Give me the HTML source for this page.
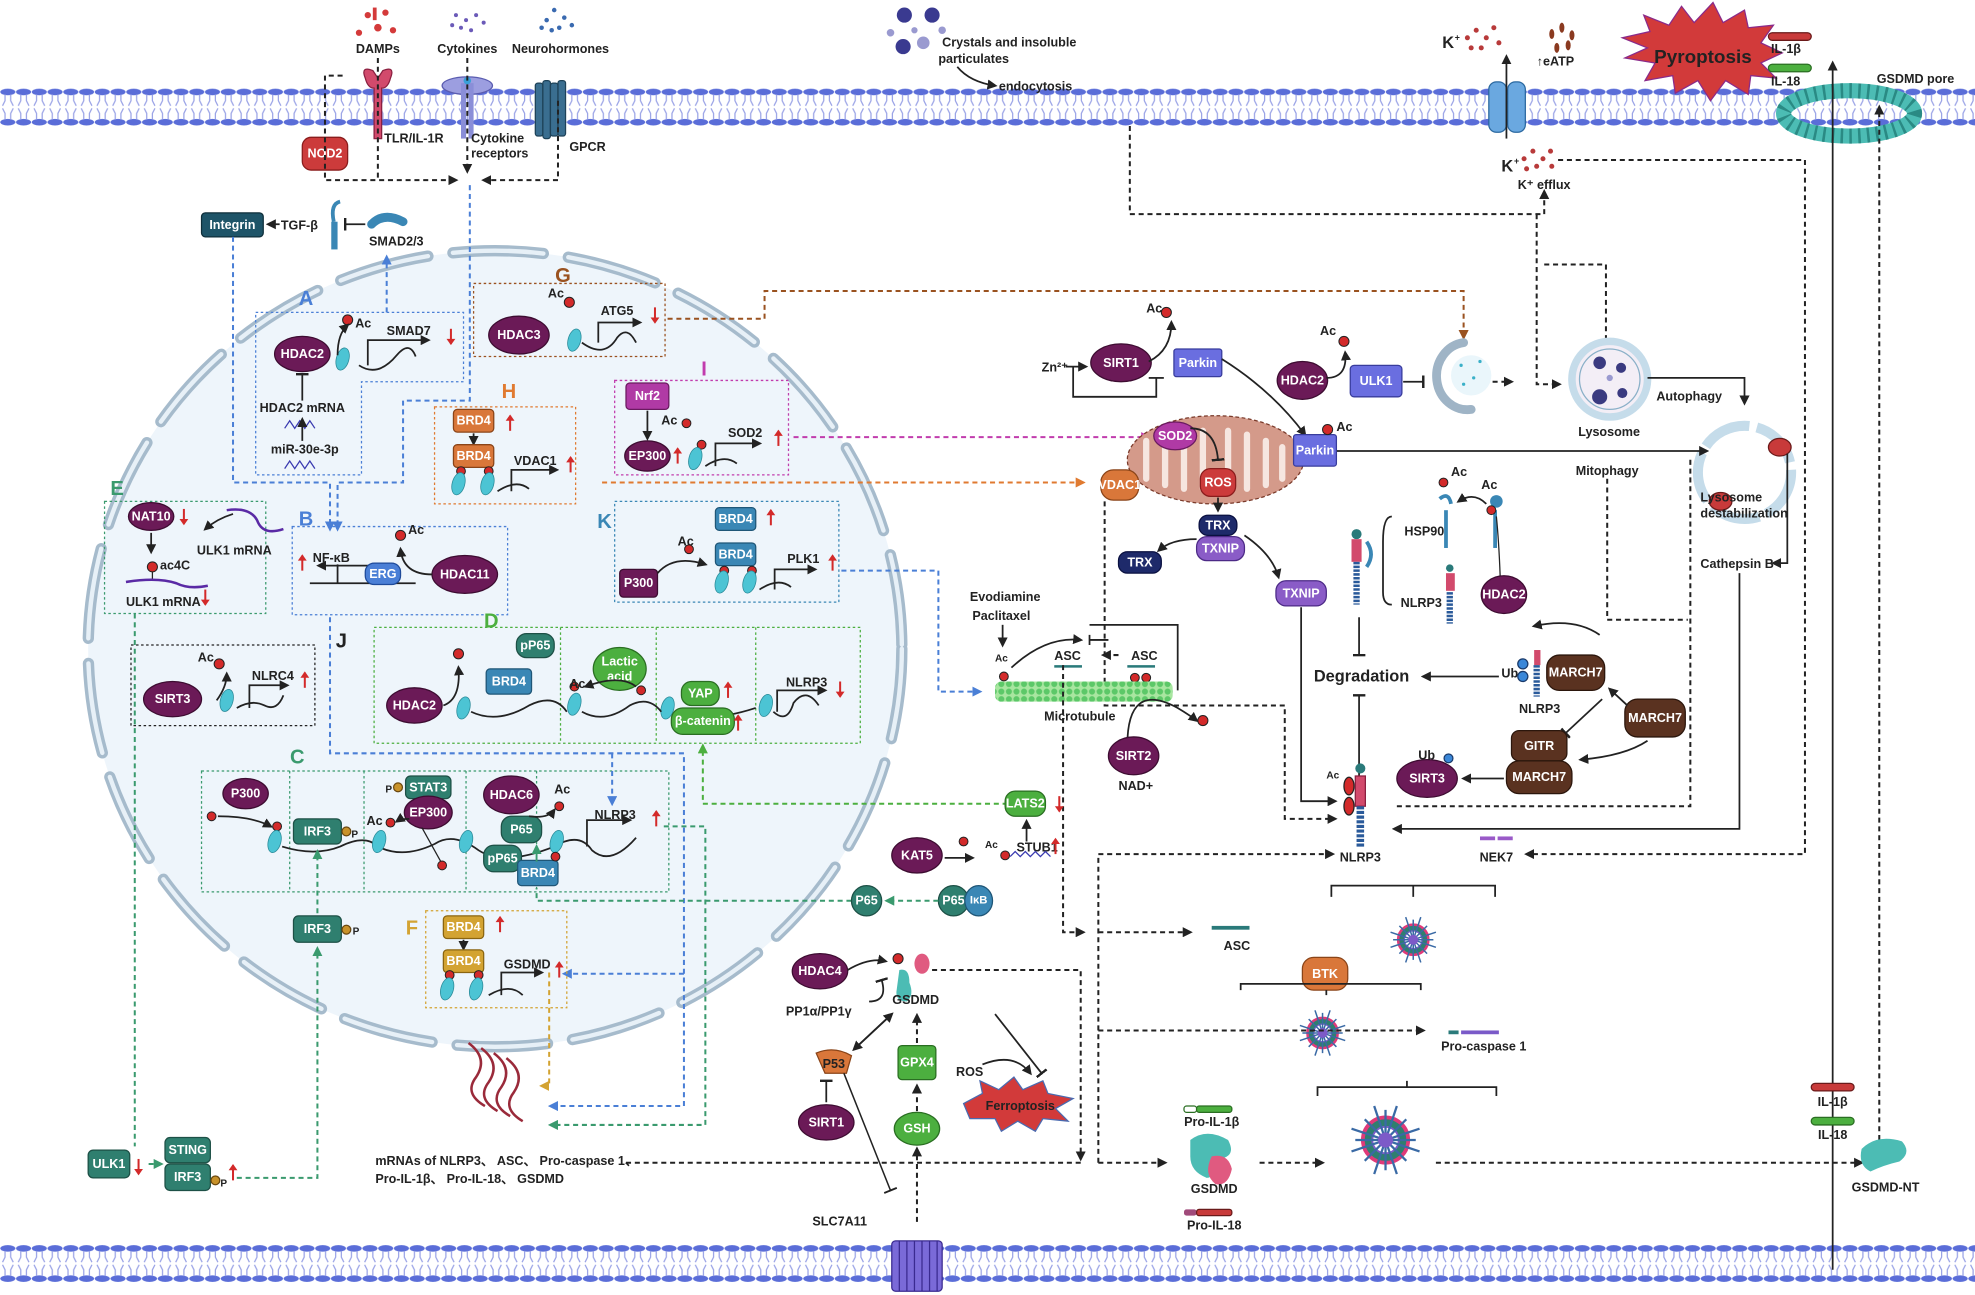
<!DOCTYPE html>
<html><head><meta charset="utf-8"><style>
html,body{margin:0;padding:0;background:#fff}
svg{display:block}
text{font-family:"Liberation Sans Narrow","Liberation Sans",sans-serif;font-weight:bold;font-size:10px;fill:#222}
.w{fill:#fff;text-anchor:middle;dominant-baseline:central}
.c{text-anchor:middle}
.L{font-size:16px}
.m{fill:#6b1a57;stroke:#3d0c31;stroke-width:1}
.tl{fill:#2f7f6f;stroke:#1d5046;stroke-width:1}
.bl{fill:#3a87b5;stroke:#1f5677;stroke-width:1}
.or{fill:#d9773a;stroke:#8a4418;stroke-width:1}
.gr{fill:#4caf3f;stroke:#2a6e22;stroke-width:1}
.pu{fill:#8a5cc7;stroke:#4c2a86;stroke-width:1}
.pk{fill:#6a6ee0;stroke:#383c9c;stroke-width:1}
.br{fill:#5a3220;stroke:#2b160c;stroke-width:1}
.yl{fill:#d3a332;stroke:#8a6510;stroke-width:1}
.d{fill:none;stroke:#222;stroke-width:1.6;stroke-dasharray:4 3}
.s{fill:none;stroke:#222;stroke-width:1.4}
.bd{fill:none;stroke:#4a7fd6;stroke-width:1.6;stroke-dasharray:4 3}
.gd{fill:none;stroke:#3a9a6e;stroke-width:1.6;stroke-dasharray:4 3}
.lg{fill:none;stroke:#4caf3f;stroke-width:1.6;stroke-dasharray:4 3}
.box{fill:none;stroke-width:1;stroke-dasharray:2 2}
.nu{fill:#4cc4d4;stroke:#2a8a98;stroke-width:.6}
.dot{fill:#d32a2a;stroke:#222;stroke-width:.8}
</style></head><body>
<svg width="1975" height="1295" viewBox="0 0 1568 1028" preserveAspectRatio="none" xmlns="http://www.w3.org/2000/svg">
<defs>
<pattern id="mem" x="0" y="70" width="12.5" height="32" patternUnits="userSpaceOnUse">
<ellipse cx="6.2" cy="3" rx="6" ry="2.6" fill="#5a6dd8"/>
<ellipse cx="6.2" cy="27" rx="6" ry="2.6" fill="#5a6dd8"/>
<path d="M4 5 L4 10 L2 14 M8.5 5 L8.5 10 L10.5 14 M4 25 L4 20 L2 16 M8.5 25 L8.5 20 L10.5 16" stroke="#9aa3e6" stroke-width="1" fill="none"/>
</pattern>
<pattern id="mem2" x="0" y="988" width="12.5" height="32" patternUnits="userSpaceOnUse">
<ellipse cx="6.2" cy="3" rx="6" ry="2.6" fill="#5a6dd8"/>
<ellipse cx="6.2" cy="27" rx="6" ry="2.6" fill="#5a6dd8"/>
<path d="M4 5 L4 10 L2 14 M8.5 5 L8.5 10 L10.5 14 M4 25 L4 20 L2 16 M8.5 25 L8.5 20 L10.5 16" stroke="#9aa3e6" stroke-width="1" fill="none"/>
</pattern>
<pattern id="mt" width="6" height="6" patternUnits="userSpaceOnUse"><rect width="6" height="6" fill="#a8e6a0"/><circle cx="3" cy="3" r="2.4" fill="#5cc868"/></pattern>
<marker id="a" markerWidth="8" markerHeight="8" refX="6" refY="4" orient="auto" markerUnits="userSpaceOnUse"><path d="M0 0L8 4L0 8z" fill="#222"/></marker>
<marker id="ab" markerWidth="8" markerHeight="8" refX="6" refY="4" orient="auto" markerUnits="userSpaceOnUse"><path d="M0 0L8 4L0 8z" fill="#4a7fd6"/></marker>
<marker id="ag" markerWidth="8" markerHeight="8" refX="6" refY="4" orient="auto" markerUnits="userSpaceOnUse"><path d="M0 0L8 4L0 8z" fill="#3a9a6e"/></marker>
<marker id="alg" markerWidth="8" markerHeight="8" refX="6" refY="4" orient="auto" markerUnits="userSpaceOnUse"><path d="M0 0L8 4L0 8z" fill="#4caf3f"/></marker>
<marker id="ao" markerWidth="8" markerHeight="8" refX="6" refY="4" orient="auto" markerUnits="userSpaceOnUse"><path d="M0 0L8 4L0 8z" fill="#e07a30"/></marker>
<marker id="abr" markerWidth="8" markerHeight="8" refX="6" refY="4" orient="auto" markerUnits="userSpaceOnUse"><path d="M0 0L8 4L0 8z" fill="#9a5220"/></marker>
<marker id="am" markerWidth="8" markerHeight="8" refX="6" refY="4" orient="auto" markerUnits="userSpaceOnUse"><path d="M0 0L8 4L0 8z" fill="#c13cad"/></marker>
<marker id="ay" markerWidth="8" markerHeight="8" refX="6" refY="4" orient="auto" markerUnits="userSpaceOnUse"><path d="M0 0L8 4L0 8z" fill="#d3a332"/></marker>
<marker id="t" markerWidth="2" markerHeight="10" refX="1" refY="5" orient="auto" markerUnits="userSpaceOnUse"><rect width="2" height="10" fill="#222"/></marker>
<g id="ru"><path d="M0 -7 L0 5" stroke="#d32a2a" stroke-width="1.6"/><path d="M-3.5 -3 L0 -8 L3.5 -3z" fill="#d32a2a"/></g>
<g id="rd"><path d="M0 -5 L0 7" stroke="#d32a2a" stroke-width="1.6"/><path d="M-3.5 3 L0 8 L3.5 3z" fill="#d32a2a"/></g>
<g id="nuc"><ellipse cx="0" cy="0" rx="5" ry="9" class="nu" transform="rotate(15)"/></g>
<g id="infl"><circle r="12" fill="#2f7f6f" stroke="#e03a7a" stroke-width="2"/><circle r="7" fill="#fff" stroke="#7d5ac8"/><path d="M0-16V16M-16 0H16M-11-11L11 11M-11 11L11-11M-6-18L6 18M6-18L-6 18M-18-6L18 6M-18 6L18-6" stroke="#3a6aa5" stroke-width="1.2"/><circle r="4" fill="#7d5ac8"/></g>
</defs>

<rect x="0" y="70" width="1568" height="32" fill="url(#mem)"/>
<rect x="0" y="988" width="1568" height="32" fill="url(#mem2)"/>

<!-- nucleus -->
<ellipse cx="393" cy="515" rx="323" ry="316" fill="#eef5fb"/>
<ellipse cx="393" cy="515" rx="323" ry="316" fill="none" stroke="#a6bbcc" stroke-width="9" stroke-dasharray="72 20" stroke-linecap="round"/>
<ellipse cx="393" cy="515" rx="323" ry="316" fill="none" stroke="#e7f0f7" stroke-width="3.5" stroke-dasharray="72 20" stroke-linecap="round"/>

<!-- top ligands -->
<g fill="#d43a3a"><circle cx="292" cy="12" r="2.5"/><circle cx="300" cy="22" r="3"/><circle cx="306" cy="10" r="2.5"/><circle cx="285" cy="26" r="2.5"/><circle cx="312" cy="24" r="2.5"/><rect x="296" y="6" width="3" height="10"/></g>
<g fill="#6b5ab8"><circle cx="362" cy="12" r="1.6"/><circle cx="370" cy="16" r="1.6"/><circle cx="378" cy="12" r="1.6"/><circle cx="366" cy="22" r="1.6"/><circle cx="374" cy="24" r="1.6"/><circle cx="384" cy="18" r="1.6"/><circle cx="359" cy="20" r="1.6"/></g>
<g fill="#3a6ab0"><circle cx="440" cy="8" r="1.8"/><circle cx="448" cy="14" r="1.8"/><circle cx="434" cy="16" r="1.8"/><circle cx="444" cy="22" r="1.8"/><circle cx="454" cy="20" r="1.8"/><circle cx="438" cy="24" r="1.8"/><circle cx="430" cy="22" r="1.8"/></g>
<text x="300" y="42" class="c">DAMPs</text><text x="371" y="42" class="c">Cytokines</text><text x="445" y="42" class="c">Neurohormones</text>
<path d="M290 62 Q286 52 296 56 L300 62 L304 56 Q314 52 310 62 Q308 70 303 70 L303 110 L297 110 L297 70 Q292 70 290 62z" fill="#d24a6c" stroke="#8a2040"/>
<ellipse cx="371" cy="68" rx="20" ry="7" fill="#9c9ee0" stroke="#5a5cb0"/><rect x="366" y="66" width="4" height="44" fill="#8a8ed8"/><rect x="372" y="66" width="4" height="44" fill="#8a8ed8"/><circle cx="371" cy="64" r="3" fill="#3aa0d8"/>
<g fill="#3a6e90" stroke="#1e4258"><rect x="425" y="66" width="6" height="42" rx="2"/><rect x="431" y="64" width="6" height="46" rx="2"/><rect x="437" y="66" width="6" height="42" rx="2"/><rect x="443" y="64" width="6" height="44" rx="2"/></g>
<text x="305" y="113">TLR/IL-1R</text><text x="374" y="113">Cytokine</text><text x="374" y="125">receptors</text><text x="452" y="120">GPCR</text>
<rect x="240" y="109" width="36" height="26" rx="7" fill="#cc3b3b" stroke="#8a1c1c"/><text x="258" y="122" class="w">NOD2</text>
<path class="d" d="M272 60 H258 V143 H362" marker-end="url(#a)"/>
<path class="d" d="M300 46 V143"/>
<path class="d" d="M371 46 V136" marker-end="url(#a)"/>
<path class="d" d="M443 80 V143 H384" marker-end="url(#a)"/>
<rect x="160" y="169" width="49" height="19" rx="3" fill="#1e5468" stroke="#0e2e3a"/><text x="184.5" y="178.5" class="w">Integrin</text>
<path class="s" d="M222 178 H213" marker-end="url(#a)"/><text x="223" y="182">TGF-β</text>
<rect x="263" y="176" width="5" height="22" fill="#3a87b5"/><path d="M265 176 Q262 162 270 160" stroke="#3a87b5" stroke-width="3" fill="none"/>
<path class="s" d="M290 178 H274" marker-end="url(#t)"/>
<path d="M295 178 Q305 168 320 176" stroke="#3a87b5" stroke-width="7" fill="none" stroke-linecap="round"/>
<text x="293" y="195">SMAD2/3</text>
<path class="bd" d="M373 147 V318 H320 V383 H268 V420" marker-end="url(#ab)"/>
<path class="bd" d="M185 188 V383 H262 V420" marker-end="url(#ab)"/>
<path class="bd" d="M307 248 V204" marker-end="url(#ab)"/>

<!-- A -->
<text x="243" y="242" class="c L" style="fill:#4a7fd6">A</text>
<path class="box" stroke="#4a7fd6" d="M203 248 H368 V303 H287 V377 H203 Z"/>
<ellipse cx="240" cy="281" rx="22" ry="14" class="m"/><text x="240" y="281" class="w">HDAC2</text>
<use href="#nuc" x="272" y="285"/><circle cx="276" cy="254" r="4" class="dot"/><text x="282" y="260">Ac</text>
<path class="s" d="M268 282 Q268 265 276 258" marker-end="url(#a)"/>
<path class="s" d="M285 290 Q300 300 315 282 Q325 270 330 283"/>
<path class="s" d="M292 290 V270 H340" marker-end="url(#a)"/><text x="307" y="266">SMAD7</text>
<use href="#rd" x="358" y="266"/>
<path class="s" d="M240 318 V297" marker-end="url(#t)"/><text x="240" y="327" class="c">HDAC2 mRNA</text>
<path d="M226 340 l4 -6 l4 6 l4 -6 l4 6 l4 -6 l4 6" stroke="#3a3ab0" fill="none"/><path class="s" d="M240 350 V333" marker-end="url(#a)"/>
<text x="242" y="360" class="c">miR-30e-3p</text><path d="M226 372 l4 -6 l4 6 l4 -6 l4 6 l4 -6 l4 6" stroke="#3a3ab0" fill="none"/>

<!-- G -->
<text x="447" y="224" class="c L" style="fill:#9a5220">G</text>
<rect x="376" y="225" width="152" height="58" class="box" stroke="#9a5220"/>
<ellipse cx="412" cy="266" rx="24" ry="15" class="m"/><text x="412" y="266" class="w">HDAC3</text>
<use href="#nuc" x="456" y="270"/><circle cx="452" cy="240" r="4" class="dot"/><text x="435" y="236">Ac</text>
<path class="s" d="M462 272 Q480 285 490 268 Q498 258 505 272"/><path class="s" d="M475 272 V256 H508" marker-end="url(#a)"/><text x="477" y="250">ATG5</text>
<use href="#rd" x="520" y="249"/>
<path fill="none" stroke="#9a5220" stroke-width="1.6" stroke-dasharray="4 3" d="M530 253 H607 V231 H1162 V268" marker-end="url(#abr)"/>

<!-- H -->
<text x="404" y="316" class="c L" style="fill:#e07a30">H</text>
<rect x="345" y="323" width="112" height="77" class="box" stroke="#e07a30"/>
<rect x="360" y="325" width="32" height="18" rx="3" class="or"/><text x="376" y="334" class="w">BRD4</text><use href="#ru" x="405" y="337"/>
<path class="s" d="M376 344 V352" marker-end="url(#a)"/>
<rect x="360" y="353" width="32" height="18" rx="3" class="or"/><text x="376" y="362" class="w">BRD4</text>
<circle cx="366" cy="374" r="3.5" class="dot"/><circle cx="388" cy="374" r="3.5" class="dot"/>
<use href="#nuc" x="364" y="384"/><use href="#nuc" x="387" y="384"/>
<path class="s" d="M395 390 Q410 380 420 388"/><path class="s" d="M406 390 V373 H442" marker-end="url(#a)"/><text x="408" y="369">VDAC1</text><use href="#ru" x="453" y="370"/>

<!-- I -->
<text x="559" y="298" class="c L" style="fill:#c13cad">I</text>
<rect x="488" y="302" width="138" height="75" class="box" stroke="#c13cad"/>
<rect x="497" y="304" width="34" height="21" rx="3" fill="#b03aa5" stroke="#6a1a60"/><text x="514" y="314.5" class="w">Nrf2</text>
<path class="s" d="M514 326 V348" marker-end="url(#a)"/>
<ellipse cx="514" cy="362" rx="18" ry="12" class="m"/><text x="514" y="362" class="w">EP300</text><use href="#ru" x="538" y="363"/>
<circle cx="545" cy="336" r="3.5" class="dot"/><text x="525" y="337">Ac</text><circle cx="557" cy="353" r="3.5" class="dot"/>
<use href="#nuc" x="552" y="364"/><path class="s" d="M560 370 Q575 360 585 368"/><path class="s" d="M568 370 V352 H603" marker-end="url(#a)"/><text x="578" y="347">SOD2</text><use href="#ru" x="618" y="349"/>
<path fill="none" stroke="#c13cad" stroke-width="1.6" stroke-dasharray="4 3" d="M630 347 H912" marker-end="url(#am)"/>
<path fill="none" stroke="#e07a30" stroke-width="1.6" stroke-dasharray="4 3" d="M478 383 H860" marker-end="url(#ao)"/>

<!-- E -->
<text x="93" y="393" class="c L" style="fill:#3a9a6e">E</text>
<rect x="83" y="398" width="128" height="89" class="box" stroke="#3a9a6e"/>
<ellipse cx="120" cy="410" rx="18" ry="11" class="m"/><text x="120" y="410" class="w">NAT10</text><use href="#rd" x="146" y="409"/>
<path d="M180 405 Q200 402 205 415 Q210 425 225 420" stroke="#5a2aa5" stroke-width="2" fill="none"/>
<path class="s" d="M185 408 Q172 412 163 420" marker-end="url(#a)"/><text x="186" y="440" class="c">ULK1 mRNA</text>
<path class="s" d="M120 423 V438" marker-end="url(#a)"/>
<circle cx="121" cy="450" r="4" class="dot"/><text x="127" y="452">ac4C</text><path d="M121 454 V460" stroke="#222"/>
<path d="M100 462 Q125 458 140 463 Q150 468 165 465" stroke="#5a2aa5" stroke-width="2" fill="none"/>
<text x="100" y="481">ULK1 mRNA</text><use href="#rd" x="163" y="473"/>

<!-- B -->
<text x="243" y="417" class="c L" style="fill:#4a7fd6">B</text>
<rect x="232" y="418" width="171" height="70" class="box" stroke="#4a7fd6"/>
<path class="s" d="M268 448 V463 M246 463 H330" /><path class="s" d="M295 449 H253" marker-end="url(#a)"/>
<text x="263" y="446" class="c">NF-κB</text><use href="#ru" x="240" y="448"/>
<rect x="290" y="447" width="28" height="17" rx="7" fill="#4a7fd6" stroke="#1e4a9a"/><text x="304" y="455.5" class="w">ERG</text>
<ellipse cx="369" cy="456" rx="26" ry="15" class="m"/><text x="369" y="456" class="w">HDAC11</text>
<path class="s" d="M343 456 Q320 456 318 436" marker-end="url(#a)"/><circle cx="318" cy="425" r="4" class="dot"/><text x="324" y="424">Ac</text>

<!-- K -->
<text x="480" y="419" class="c L" style="fill:#3a87b5">K</text>
<rect x="488" y="398" width="178" height="80" class="box" stroke="#3a87b5"/>
<rect x="568" y="403" width="32" height="18" rx="3" class="bl"/><text x="584" y="412" class="w">BRD4</text><use href="#ru" x="612" y="412"/>
<rect x="568" y="431" width="32" height="18" rx="3" class="bl"/><text x="584" y="440" class="w">BRD4</text>
<rect x="492" y="452" width="30" height="22" rx="3" class="m"/><text x="507" y="463" class="w">P300</text>
<circle cx="547" cy="436" r="3.5" class="dot"/><text x="538" y="433">Ac</text><path class="s" d="M522 455 Q535 440 560 448" marker-end="url(#a)"/>
<circle cx="575" cy="453" r="3.5" class="dot"/><circle cx="597" cy="453" r="3.5" class="dot"/>
<use href="#nuc" x="573" y="462"/><use href="#nuc" x="595" y="462"/><path class="s" d="M603 468 Q618 458 628 466"/>
<path class="s" d="M615 468 V452 H647" marker-end="url(#a)"/><text x="625" y="447">PLK1</text><use href="#ru" x="661" y="448"/>
<path class="bd" d="M668 453 H745 V549 H778" marker-end="url(#ab)"/>

<!-- J -->
<text x="271" y="514" class="c L">J</text>
<rect x="104" y="512" width="146" height="64" class="box" stroke="#222"/>
<ellipse cx="137" cy="555" rx="23" ry="14" class="m"/><text x="137" y="555" class="w">SIRT3</text>
<use href="#nuc" x="180" y="556"/><circle cx="174" cy="527" r="4" class="dot"/><text x="157" y="525">Ac</text>
<path class="s" d="M172 556 Q180 545 180 535" marker-end="url(#a)"/>
<path class="s" d="M188 562 Q200 555 210 560 Q220 565 225 552"/><path class="s" d="M198 562 V544 H228" marker-end="url(#a)"/><text x="200" y="540">NLRC4</text><use href="#ru" x="242" y="541"/>

<!-- D -->
<text x="390" y="498" class="c L" style="fill:#4caf3f">D</text>
<rect x="297" y="498" width="386" height="92" class="box" stroke="#4caf3f"/>
<path class="box" stroke="#4caf3f" d="M445 498V590M521 498V590M600 498V590"/>
<ellipse cx="329" cy="560" rx="22" ry="14" class="m"/><text x="329" y="560" class="w">HDAC2</text>
<rect x="386" y="531" width="36" height="20" rx="3" class="bl"/><text x="404" y="541" class="w">BRD4</text>
<rect x="410" y="503" width="30" height="19" rx="8" class="tl"/><text x="425" y="512.5" class="w">pP65</text>
<circle cx="364" cy="519" r="4" class="dot"/><path class="s" d="M352 560 Q366 555 364 530" marker-end="url(#a)"/>
<use href="#nuc" x="368" y="562"/><use href="#nuc" x="456" y="559"/><use href="#nuc" x="530" y="562"/><use href="#nuc" x="608" y="560"/>
<path class="s" d="M374 565 Q395 575 420 560 Q440 550 450 565 M462 565 Q480 575 500 560 Q515 552 525 565 M535 565 Q560 575 600 562 M614 565 Q625 575 630 558 Q640 545 650 560"/>
<circle cx="456" cy="545" r="3.5" class="dot"/><text x="452" y="546">Ac</text>
<ellipse cx="492" cy="531" rx="21" ry="17" class="gr"/><text x="492" y="525" class="w">Lactic</text><text x="492" y="537" class="w">acid</text>
<circle cx="509" cy="548" r="3.5" class="dot"/><path class="s" d="M505 545 Q492 535 465 545" marker-end="url(#a)"/>
<rect x="541" y="541" width="30" height="19" rx="8" class="gr"/><text x="556" y="550.5" class="w">YAP</text><use href="#ru" x="578" y="549"/>
<rect x="533" y="562" width="50" height="21" rx="9" class="gr"/><text x="558" y="572.5" class="w">β-catenin</text><use href="#ru" x="586" y="575"/>
<path class="s" d="M617 565 V548 H655" marker-end="url(#a)"/><text x="624" y="545">NLRP3</text><use href="#rd" x="667" y="546"/>
<path fill="none" stroke="#4caf3f" stroke-width="1.6" stroke-dasharray="4 3" d="M800 638 H558 V592" marker-end="url(#alg)"/>

<!-- C -->
<text x="236" y="606" class="c L" style="fill:#3a9a6e">C</text>
<rect x="160" y="612" width="371" height="96" class="box" stroke="#3a9a6e"/>
<path class="box" stroke="#3a9a6e" d="M230 612V708M289 612V708M370 612V708M426 612V708"/>
<ellipse cx="195" cy="630" rx="18" ry="12" class="m"/><text x="195" y="630" class="w">P300</text>
<circle cx="168" cy="648" r="3.5" class="dot"/><path class="s" d="M173 648 Q200 648 215 656" marker-end="url(#a)"/><circle cx="220" cy="656" r="3.5" class="dot"/>
<use href="#nuc" x="218" y="668"/>
<rect x="233" y="650" width="38" height="20" rx="4" class="tl"/><text x="252" y="660" class="w">IRF3</text><circle cx="275" cy="660" r="3.5" fill="#c8922a" stroke="#6a4810"/><text x="279" y="665" style="font-size:8px">P</text>
<path class="s" d="M224 672 Q250 680 270 672 Q290 662 300 672 Q320 682 345 670 Q360 660 380 675 Q400 688 440 672 Q460 660 470 675 Q485 688 505 665"/>
<use href="#nuc" x="301" y="668"/><use href="#nuc" x="370" y="668"/><use href="#nuc" x="442" y="668"/>
<rect x="322" y="616" width="36" height="18" rx="4" class="tl"/><text x="340" y="625" class="w">STAT3</text><circle cx="316" cy="625" r="3.5" fill="#c8922a" stroke="#6a4810"/><text x="306" y="629" style="font-size:8px">P</text>
<ellipse cx="340" cy="645" rx="19" ry="13" class="m"/><text x="340" y="645" class="w">EP300</text>
<circle cx="310" cy="653" r="3.5" class="dot"/><text x="291" y="655">Ac</text><path class="s" d="M325 650 Q318 650 315 652" marker-end="url(#a)"/>
<path d="M335 657 L350 684" stroke="#222"/><circle cx="351" cy="687" r="3.5" class="dot"/>
<ellipse cx="406" cy="631" rx="22" ry="15" class="m"/><text x="406" y="631" class="w">HDAC6</text>
<text x="440" y="630">Ac</text><circle cx="444" cy="640" r="3.5" class="dot"/>
<rect x="398" y="648" width="32" height="21" rx="8" class="tl"/><text x="414" y="658.5" class="w">P65</text><path class="s" d="M420 648 Q435 650 440 643" marker-end="url(#a)"/>
<rect x="384" y="671" width="30" height="21" rx="8" class="tl"/><text x="399" y="681.5" class="w">pP65</text>
<rect x="411" y="683" width="32" height="20" rx="3" class="bl"/><text x="427" y="693" class="w">BRD4</text>
<circle cx="441" cy="680" r="3.5" class="dot"/><path d="M426 684 V672" stroke="#3a9a6e" stroke-width="1.5" marker-end="url(#ag)"/>
<path class="s" d="M466 672 V651 H500" marker-end="url(#a)"/><text x="472" y="650">NLRP3</text><use href="#ru" x="521" y="651"/>
<path class="bd" d="M486 598 V638" marker-end="url(#ab)"/>
<path class="bd" d="M262 490 V598 H543 V878 H437" marker-end="url(#ab)"/>
<path class="bd" d="M543 773 H448" marker-end="url(#ab)"/>
<path class="gd" d="M527 656 H560 V893 H437" marker-end="url(#ag)"/>
<path class="gd" d="M676 715 H426 V705"/>
<ellipse cx="688" cy="715" rx="12" ry="12" class="tl"/><text x="688" y="715" class="w">P65</text>
<ellipse cx="757" cy="715" rx="12" ry="12" class="tl"/><text x="757" y="715" class="w">P65</text><ellipse cx="777" cy="715" rx="11" ry="12" class="bl"/><text x="777" y="715" class="w" style="font-size:9px">IκB</text>
<path class="gd" d="M745 715 H704" marker-end="url(#ag)"/>

<rect x="233" y="727" width="38" height="21" rx="4" class="tl"/><text x="252" y="737.5" class="w">IRF3</text><circle cx="275" cy="738" r="3.5" fill="#c8922a" stroke="#6a4810"/><text x="280" y="742" style="font-size:8px">P</text>
<path class="gd" d="M252 725 V676" marker-end="url(#ag)"/>
<path class="gd" d="M188 935 H252 V753" marker-end="url(#ag)"/>
<path class="gd" d="M107 487 V910"/>
<rect x="70" y="913" width="33" height="22" rx="4" class="tl"/><text x="86.5" y="924" class="w">ULK1</text><use href="#rd" x="110" y="925"/>
<path class="gd" d="M118 924 H128" marker-end="url(#ag)"/>
<rect x="131" y="903" width="36" height="20" rx="4" class="tl"/><text x="149" y="913" class="w">STING</text>
<rect x="131" y="924" width="36" height="21" rx="4" class="tl"/><text x="149" y="934.5" class="w">IRF3</text><circle cx="171" cy="937" r="3.5" fill="#c8922a" stroke="#6a4810"/><text x="175" y="942" style="font-size:8px">P</text><use href="#ru" x="185" y="932"/>

<!-- F -->
<text x="327" y="742" class="c L" style="fill:#d3a332">F</text>
<rect x="338" y="723" width="112" height="77" class="box" stroke="#d3a332"/>
<rect x="352" y="727" width="32" height="18" rx="3" class="yl"/><text x="368" y="736" class="w">BRD4</text><use href="#ru" x="397" y="735"/>
<path class="s" d="M368 746 V753" marker-end="url(#a)"/>
<rect x="352" y="754" width="32" height="18" rx="3" class="yl"/><text x="368" y="763" class="w">BRD4</text>
<circle cx="357" cy="774" r="3.5" class="dot"/><circle cx="380" cy="774" r="3.5" class="dot"/>
<use href="#nuc" x="355" y="785"/><use href="#nuc" x="378" y="785"/>
<path class="s" d="M388 790 Q405 780 415 790"/><path class="s" d="M398 790 V772 H430" marker-end="url(#a)"/><text x="400" y="769">GSDMD</text><use href="#ru" x="444" y="771"/>
<path fill="none" stroke="#d3a332" stroke-width="1.6" stroke-dasharray="4 3" d="M436 772 V862 H430" marker-end="url(#ay)"/>
<g stroke="#9a2a3a" stroke-width="2" fill="none"><path d="M372 828 Q388 840 378 855 Q368 868 385 878"/><path d="M382 832 Q398 844 388 859 Q378 872 395 882"/><path d="M392 836 Q408 848 398 863 Q388 876 405 886"/><path d="M402 840 Q418 852 408 867 Q398 880 415 890"/></g>
<text x="298" y="925">mRNAs of NLRP3、 ASC、 Pro-caspase 1、</text>
<text x="298" y="939">Pro-IL-1β、 Pro-IL-18、 GSDMD</text>
<path class="d" d="M497 923 H858"/>

<!-- crystals -->
<g fill="#3a3a90"><circle cx="718" cy="12" r="6"/><circle cx="740" cy="12" r="6"/><circle cx="717" cy="37" r="6"/></g>
<g fill="#9a9ad0"><circle cx="707" cy="26" r="3"/><circle cx="733" cy="34" r="5"/><circle cx="726" cy="24" r="2.5"/><circle cx="748" cy="24" r="3"/></g>
<text x="748" y="37">Crystals and  insoluble</text><text x="745" y="50">particulates</text>
<path class="s" d="M760 53 Q770 65 790 68" marker-end="url(#a)"/><text x="793" y="72">endocytosis</text>

<rect x="1182" y="65" width="14" height="40" rx="6" fill="#6aa8e0" stroke="#2a68a0"/><rect x="1197" y="65" width="14" height="40" rx="6" fill="#6aa8e0" stroke="#2a68a0"/>
<path class="s" d="M1196 110 V45" marker-end="url(#a)"/>
<text x="1145" y="38" style="font-size:13px">K</text><text x="1155" y="32" style="font-size:7px">+</text>
<g fill="#b83a3a"><circle cx="1165" cy="30" r="2"/><circle cx="1172" cy="24" r="2"/><circle cx="1180" cy="30" r="2"/><circle cx="1186" cy="22" r="2"/><circle cx="1176" cy="38" r="2"/><circle cx="1190" cy="34" r="2"/><circle cx="1168" cy="38" r="2"/></g>
<g fill="#8a3a20"><ellipse cx="1232" cy="27" rx="2" ry="4"/><ellipse cx="1240" cy="22" rx="2" ry="4"/><ellipse cx="1248" cy="28" rx="2" ry="4"/><ellipse cx="1236" cy="38" rx="2" ry="4"/><ellipse cx="1245" cy="36" rx="2" ry="4"/></g>
<text x="1220" y="52">↑eATP</text>
<text x="1192" y="136" style="font-size:13px">K</text><text x="1202" y="130" style="font-size:7px">+</text>
<g fill="#b83a3a"><circle cx="1210" cy="126" r="2"/><circle cx="1217" cy="120" r="2"/><circle cx="1225" cy="126" r="2"/><circle cx="1231" cy="120" r="2"/><circle cx="1220" cy="132" r="2"/><circle cx="1232" cy="132" r="2"/><circle cx="1212" cy="134" r="2"/></g>
<text x="1205" y="150">K⁺ efflux</text>
<path d="M1288 30 L1310 25 L1305 12 L1325 20 L1335 5 L1345 18 L1360 2 L1368 18 L1385 8 L1388 22 L1408 20 L1398 34 L1415 42 L1398 50 L1410 62 L1390 60 L1388 75 L1370 64 L1358 80 L1348 64 L1330 74 L1328 60 L1306 64 L1314 50 L1290 46 L1308 38z" fill="#d23a3a" stroke="#8a2a8a" stroke-width="1"/>
<text x="1352" y="50" class="c" style="font-size:15px">Pyroptosis</text>
<rect x="1404" y="26" width="34" height="6" rx="3" fill="#c83a3a" stroke="#6a1a1a"/><text x="1406" y="42">IL-1β</text>
<rect x="1404" y="51" width="34" height="6" rx="3" fill="#4caf3f" stroke="#2a6e22"/><text x="1406" y="68">IL-18</text>
<ellipse cx="1468" cy="90" rx="52" ry="18" fill="none" stroke="#4cbcb4" stroke-width="12"/>
<ellipse cx="1468" cy="90" rx="52" ry="18" fill="none" stroke="#2a8a84" stroke-width="12" stroke-dasharray="2 5"/>
<text x="1490" y="66">GSDMD pore</text>
<path class="s" d="M1455 1008 V50" marker-end="url(#a)"/>
<path class="d" d="M1492 905 V85" marker-end="url(#a)"/>

<path class="d" d="M897 100 V170 H1226 V152" marker-end="url(#a)"/>
<path class="d" d="M1220 170 V305 H1238" marker-end="url(#a)"/>
<path class="d" d="M1226 210 H1275 V270"/>
<path class="d" d="M1237 127 H1433 V678 H1212" marker-end="url(#a)"/>
<text x="827" y="295">Zn²⁺</text><path class="s" d="M846 291 H862" marker-end="url(#a)"/>
<ellipse cx="890" cy="288" rx="24" ry="15" class="m"/><text x="890" y="288" class="w">SIRT1</text>
<rect x="932" y="277" width="38" height="22" rx="2" class="pk"/><text x="951" y="288" class="w">Parkin</text>
<path class="s" d="M852 291 V315 H918 V300"/><path d="M912 300 H924" stroke="#222" stroke-width="1.4"/>
<text x="910" y="248">Ac</text><circle cx="926" cy="248" r="4" class="dot"/><path class="s" d="M912 287 Q930 278 930 256" marker-end="url(#a)"/>
<path class="s" d="M970 285 Q1010 310 1036 345" marker-end="url(#a)"/>
<ellipse cx="1034" cy="302" rx="20" ry="15" class="m"/><text x="1034" y="302" class="w">HDAC2</text>
<rect x="1072" y="290" width="41" height="25" rx="3" class="pk"/><text x="1092.5" y="302.5" class="w">ULK1</text>
<text x="1048" y="266">Ac</text><circle cx="1067" cy="271" r="4" class="dot"/><path class="s" d="M1053 300 Q1070 300 1068 280" marker-end="url(#a)"/>
<path class="s" d="M1114 303 H1130" marker-end="url(#t)"/>
<path d="M1162 272 A22 24 0 1 0 1168 325" fill="none" stroke="#9fb4c6" stroke-width="7" stroke-linecap="round"/>
<circle cx="1168" cy="298" r="16" fill="#eaf6fb"/>
<g fill="#3ab0c8"><circle cx="1160" cy="290" r="1.3"/><circle cx="1170" cy="300" r="1.3"/><circle cx="1175" cy="287" r="1.3"/><circle cx="1162" cy="305" r="1.3"/></g>
<path class="d" d="M1185 303 H1200" marker-end="url(#a)"/>
<circle cx="1278" cy="301" r="30" fill="#f3eef6" stroke="#c5dcea" stroke-width="6"/><circle cx="1278" cy="301" r="24" fill="none" stroke="#8ab0c8" stroke-width="1"/>
<g fill="#3a3a80"><circle cx="1270" cy="288" r="5"/><circle cx="1287" cy="292" r="4"/><circle cx="1270" cy="315" r="6"/><circle cx="1288" cy="312" r="4"/><circle cx="1278" cy="300" r="2.5" fill="#9a9ad0"/></g>
<text x="1253" y="346">Lysosome</text>
<path class="s" d="M1308 300 H1385 V320" marker-end="url(#a)"/><text x="1315" y="318">Autophagy</text>
<circle cx="1385" cy="375" r="37" fill="none" stroke="#c5dcea" stroke-width="8" stroke-dasharray="40 6"/>
<ellipse cx="1366" cy="398" rx="9" ry="7" fill="#c83a3a" stroke="#6a1a1a"/><ellipse cx="1413" cy="355" rx="9" ry="7" fill="#c83a3a" stroke="#6a1a1a"/>
<text x="1350" y="398">Lysosome</text><text x="1350" y="411">destabilization</text>
<path class="s" d="M1419 360 V447 H1408" marker-end="url(#a)"/><text x="1350" y="451">Cathepsin B</text>
<path class="s" d="M1061 358 H1355" marker-end="url(#a)"/>
<text x="1251" y="377">Mitophagy</text>
<path class="d" d="M1276 380 V492 H1340"/>
<path class="d" d="M1342 365 V640 H1107"/>
<path class="s" d="M1381 455 V658 H1107" marker-end="url(#a)"/>
<ellipse cx="965" cy="365" rx="70" ry="35" fill="#d49a8a" stroke="#7a3a2a" stroke-dasharray="3 2"/>
<path d="M910 380 V350 M925 385 V345 M940 388 V340 M955 388 V342 M975 388 V342 M990 388 V345 M1005 385 V350 M1018 380 V355" stroke="#f6e6e0" stroke-width="5" stroke-linecap="round"/>
<ellipse cx="933" cy="346" rx="17" ry="11" fill="#b03aa5" stroke="#6a1a60"/><text x="933" y="346" class="w">SOD2</text>
<rect x="874" y="373" width="30" height="24" rx="10" class="or"/><text x="889" y="385" class="w">VDAC1</text>
<rect x="953" y="372" width="28" height="22" rx="8" fill="#cc3b3b" stroke="#8a1c1c"/><text x="967" y="383" class="w">ROS</text>
<path class="s" d="M945 340 Q965 340 967 365" marker-end="url(#t)"/>
<rect x="1027" y="345" width="34" height="25" rx="2" class="pk"/><text x="1044" y="357.5" class="w">Parkin</text>
<circle cx="1054" cy="341" r="4" class="dot"/><text x="1061" y="342">Ac</text>
<path class="s" d="M967 395 V405" marker-end="url(#a)"/>
<rect x="952" y="409" width="30" height="16" rx="7" fill="#1e2a6a" stroke="#0a1040"/><text x="967" y="417" class="w">TRX</text>
<rect x="950" y="426" width="38" height="19" rx="8" class="pu"/><text x="969" y="435.5" class="w">TXNIP</text>
<rect x="888" y="438" width="34" height="17" rx="7" fill="#1e2a6a" stroke="#0a1040"/><text x="905" y="446.5" class="w">TRX</text>
<path class="s" d="M950 428 Q930 428 920 437" marker-end="url(#a)"/>
<path class="s" d="M988 425 Q1010 440 1015 458" marker-end="url(#a)"/>
<rect x="1013" y="461" width="40" height="20" rx="8" class="pu"/><text x="1033" y="471" class="w">TXNIP</text>
<path class="s" d="M1033 482 V636 H1060" marker-end="url(#a)"/>
<path class="d" d="M877 398 V560 H1020 V650 H1060" marker-end="url(#a)"/>
<rect x="1073" y="428" width="8" height="18" fill="#d24a6c"/><path d="M1077 446 V480" stroke="#2a5a9a" stroke-width="5" stroke-dasharray="2 1"/><circle cx="1077" cy="424" r="4" fill="#2a7a7a"/>
<path d="M1085 430 Q1092 440 1085 450" stroke="#3a87b5" stroke-width="3" fill="none"/>
<path class="s" d="M1105 410 Q1098 410 1098 430 V470 Q1098 480 1105 480"/>
<text x="1115" y="425">HSP90</text><text x="1112" y="482">NLRP3</text>
<rect x="1148" y="455" width="7" height="14" fill="#d24a6c"/><path d="M1151 470 V495" stroke="#2a5a9a" stroke-width="5" stroke-dasharray="2 1"/><circle cx="1151" cy="451" r="3" fill="#2a7a7a"/>
<path d="M1148 405 V435" stroke="#3a87b5" stroke-width="3"/><path d="M1143 396 Q1150 390 1152 400" stroke="#3a87b5" stroke-width="3" fill="none"/>
<path d="M1187 405 V435" stroke="#3a87b5" stroke-width="3"/><circle cx="1188" cy="398" r="5" fill="#3a87b5"/><circle cx="1184" cy="405" r="3.5" class="dot"/>
<circle cx="1146" cy="383" r="3.5" class="dot"/><text x="1152" y="378">Ac</text><text x="1176" y="388">Ac</text>
<path class="s" d="M1180 400 Q1170 390 1158 398" marker-end="url(#a)"/>
<ellipse cx="1194" cy="472" rx="18" ry="15" class="m"/><text x="1194" y="472" class="w">HDAC2</text>
<path d="M1191 457 Q1190 430 1188 410" stroke="#222" fill="none"/>
<path class="s" d="M1079 490 V520" marker-end="url(#t)"/>
<text x="1081" y="541" class="c" style="font-size:13px">Degradation</text>
<path class="s" d="M1190 537 H1130" marker-end="url(#a)"/><text x="1192" y="538">Ub</text>
<path class="s" d="M1079 640 V552" marker-end="url(#t)"/>
<circle cx="1209" cy="527" r="4" fill="#3a87d8" stroke="#1a3a6a"/><circle cx="1209" cy="537" r="4" fill="#3a87d8" stroke="#1a3a6a"/>
<rect x="1218" y="516" width="5" height="12" fill="#d24a6c"/><path d="M1220 528 V553" stroke="#2a5a9a" stroke-width="5" stroke-dasharray="2 1"/>
<rect x="1228" y="520" width="46" height="28" rx="10" class="br"/><text x="1251" y="534" class="w">MARCH7</text>
<text x="1206" y="566">NLRP3</text>
<path class="s" d="M1270 504 Q1250 490 1218 497" marker-end="url(#a)"/>
<rect x="1290" y="555" width="48" height="30" rx="10" class="br"/><text x="1314" y="570" class="w">MARCH7</text>
<path class="s" d="M1292 560 L1278 547" marker-end="url(#a)"/>
<path class="s" d="M1272 555 L1243 582" marker-end="url(#t)"/>
<rect x="1200" y="580" width="44" height="24" rx="6" class="br"/><text x="1222" y="592" class="w">GITR</text>
<rect x="1196" y="604" width="52" height="26" rx="10" class="br"/><text x="1222" y="617" class="w">MARCH7</text>
<path class="s" d="M1308 588 Q1290 600 1255 603" marker-end="url(#a)"/>
<ellipse cx="1133" cy="618" rx="24" ry="15" class="m"/><text x="1133" y="618" class="w">SIRT3</text>
<text x="1126" y="603">Ub</text><circle cx="1150" cy="602" r="3.5" fill="#3a87d8" stroke="#1a3a6a"/>
<path class="s" d="M1194 618 H1162" marker-end="url(#a)"/>
<circle cx="1080" cy="610" r="4" fill="#2a7a7a"/><rect x="1076" y="616" width="8" height="24" fill="#d24a6c" stroke="#8a2040"/>
<ellipse cx="1071" cy="624" rx="4" ry="7" fill="#d32a2a" stroke="#222"/><ellipse cx="1071" cy="640" rx="4" ry="7" fill="#d32a2a" stroke="#222"/><text x="1053" y="618" style="font-size:8px">Ac</text>
<path d="M1080 640 V673" stroke="#2a5a9a" stroke-width="6" stroke-dasharray="2.5 1.2"/>
<text x="1080" y="684" class="c">NLRP3</text>
<rect x="1175" y="664" width="12" height="3" fill="#9a5ac8"/><rect x="1189" y="664" width="12" height="3" fill="#9a5ac8"/><text x="1188" y="684" class="c">NEK7</text>
<text x="770" y="477">Evodiamine</text><text x="772" y="492">Paclitaxel</text>
<path class="s" d="M796 496 V512" marker-end="url(#a)"/><text x="790" y="525" style="font-size:8px">Ac</text><circle cx="797" cy="537" r="3.5" class="dot"/>
<path class="s" d="M803 530 Q830 505 858 508" marker-end="url(#a)"/>
<path class="s" d="M880 508 H865 M865 504 V512"/><path class="s" d="M865 496 H935 V548"/>
<text x="837" y="524">ASC</text><text x="898" y="524">ASC</text><path class="d" d="M888 520 H876" marker-end="url(#a)"/>
<rect x="837" y="528" width="22" height="2" fill="#2a7a7a"/><rect x="895" y="528" width="22" height="2" fill="#2a7a7a"/>
<circle cx="901" cy="538" r="3.5" class="dot"/><circle cx="910" cy="538" r="3.5" class="dot"/>
<rect x="790" y="541" width="141" height="16" rx="5" fill="url(#mt)"/>
<text x="829" y="572">Microtubule</text>
<path class="s" d="M895 592 Q895 540 935 562 Q945 568 950 572" marker-end="url(#a)"/><circle cx="955" cy="572" r="4" class="dot"/>
<ellipse cx="900" cy="600" rx="20" ry="15" class="m"/><text x="900" y="600" class="w">SIRT2</text><text x="888" y="627">NAD+</text>
<path class="d" d="M844 528 V740 H860" marker-end="url(#a)"/>
<rect x="798" y="628" width="32" height="20" rx="8" class="gr"/><text x="814" y="638" class="w">LATS2</text><use href="#rd" x="841" y="637"/>
<path class="s" d="M815 668 V652" marker-end="url(#a)"/>
<ellipse cx="728" cy="679" rx="20" ry="14" class="m"/><text x="728" y="679" class="w">KAT5</text><circle cx="765" cy="668" r="3.5" class="dot"/>
<path class="s" d="M750 681 H772" marker-end="url(#a)"/><text x="782" y="673" style="font-size:8px">Ac</text><circle cx="798" cy="679" r="3.5" class="dot"/>
<text x="807" y="676">STUB1</text><use href="#ru" x="838" y="673"/><path d="M802 680 l4 -4 l4 4 l4 -4 l4 4 l4 -4 l4 4 l4 -4 l4 4" stroke="#3a3ab0" fill="none"/>
<ellipse cx="651" cy="771" rx="22" ry="14" class="m"/><text x="651" y="771" class="w">HDAC4</text>
<path class="s" d="M673 770 Q690 760 703 763" marker-end="url(#a)"/><circle cx="713" cy="761" r="4" class="dot"/>
<path class="s" d="M690 795 Q705 795 700 778" marker-end="url(#t)"/>
<path d="M714 770 Q722 768 722 780 Q726 790 720 795 Q710 795 712 785z" fill="#4cbcb4"/><ellipse cx="732" cy="765" rx="6" ry="8" fill="#e05a80"/>
<text x="650" y="806" class="c">PP1α/PP1γ</text><text x="727" y="797" class="c">GSDMD</text>
<path class="d" d="M740 770 H858 V920" marker-end="url(#a)"/>
<path class="s" d="M790 805 L827 852" marker-end="url(#t)"/>
<path class="s" d="M678 833 L708 805" marker-end="url(#a)"/><path class="s" d="M708 805 L678 833" marker-end="url(#a)"/>
<path d="M648 836 Q662 830 676 838 L672 852 L655 852z" fill="#d9773a" stroke="#8a4418"/><text x="662" y="848" class="c">P53</text>
<path class="s" d="M656 875 V858" marker-end="url(#t)"/>
<ellipse cx="656" cy="891" rx="22" ry="14" class="m"/><text x="656" y="891" class="w">SIRT1</text>
<path d="M670 852 L707 945" stroke="#222" stroke-width="1.2"/><path d="M702 947 L712 943" stroke="#222" stroke-width="1.5"/>
<rect x="713" y="830" width="30" height="27" rx="3" class="gr"/><text x="728" y="843.5" class="w">GPX4</text>
<path class="d" d="M728 828 V806" marker-end="url(#a)"/>
<ellipse cx="728" cy="896" rx="18" ry="13" class="gr"/><text x="728" y="896" class="w">GSH</text>
<path class="d" d="M728 882 V862" marker-end="url(#a)"/>
<path class="d" d="M728 970 V912" marker-end="url(#a)"/>
<text x="759" y="854">ROS</text><path class="s" d="M780 845 Q805 835 818 852" marker-end="url(#a)"/>
<path d="M765 876 L780 868 L778 858 L793 865 L805 855 L812 865 L828 858 L832 868 L852 872 L838 880 L848 890 L828 888 L822 898 L808 890 L795 898 L790 888 L770 888z" fill="#d23a3a" stroke="#4a6ab0"/>
<text x="810" y="881" class="c">Ferroptosis</text>
<text x="645" y="973">SLC7A11</text>
<rect x="708" y="985" width="40" height="40" rx="3" fill="#7a6ad8" stroke="#3a2a90"/>
<path d="M714 985 V1025 M720 985V1025 M726 985V1025 M732 985V1025 M738 985V1025 M744 985V1025" stroke="#3a2a90"/>
<path class="d" d="M872 923 V678 H1058" marker-end="url(#a)"/>
<path class="d" d="M872 740 H945" marker-end="url(#a)"/>
<rect x="962" y="735" width="30" height="3" fill="#2a7a7a"/><text x="982" y="754" class="c">ASC</text>
<path class="s" d="M1057 712 V703 H1187 V712 M1122 703 V712"/>
<g transform="translate(1122,746)"><use href="#infl"/></g>
<rect x="1034" y="760" width="36" height="26" rx="9" class="or"/><text x="1052" y="773" class="w">BTK</text>
<path class="s" d="M985 786 V781 H1128 V786 M1053 786 V790"/>
<g transform="translate(1050,820)"><use href="#infl"/></g>
<path class="d" d="M872 818 H1130" marker-end="url(#a)"/>
<rect x="1150" y="818" width="8" height="3" fill="#2a7a7a"/><rect x="1160" y="818" width="30" height="3" fill="#7a5ac8"/>
<text x="1178" y="834" class="c">Pro-caspase 1</text>
<path class="s" d="M1046 870 V863 H1188 V870 M1117 863 V858"/>
<g transform="translate(1100,905) scale(1.5)"><use href="#infl"/></g>
<path class="d" d="M872 923 H925" marker-end="url(#a)"/>
<rect x="940" y="878" width="10" height="5" rx="2" fill="#fff" stroke="#2a6e22"/><rect x="950" y="878" width="28" height="5" rx="2" class="gr"/><text x="962" y="894" class="c">Pro-IL-1β</text>
<path d="M945 905 Q958 895 975 905 Q982 918 968 920 Q965 935 958 935 Q945 930 945 918z" fill="#4cbcb4"/><path d="M962 918 Q975 915 978 928 Q975 942 965 940 Q955 932 962 918z" fill="#e05a80"/>
<text x="964" y="947" class="c">GSDMD</text>
<rect x="940" y="960" width="10" height="5" rx="2" fill="#a04a7a"/><rect x="950" y="960" width="28" height="5" rx="2" fill="#c83a3a" stroke="#6a1a1a"/><text x="964" y="976" class="c">Pro-IL-18</text>
<path class="d" d="M1000 923 H1050" marker-end="url(#a)"/>
<path class="d" d="M1140 923 H1478" marker-end="url(#a)"/>
<rect x="1438" y="860" width="34" height="6" rx="3" fill="#c83a3a" stroke="#6a1a1a"/><text x="1455" y="878" class="c">IL-1β</text>
<rect x="1438" y="887" width="34" height="6" rx="3" fill="#4caf3f" stroke="#2a6e22"/><text x="1455" y="904" class="c">IL-18</text>
<path d="M1478 912 Q1490 900 1510 906 Q1518 915 1508 922 Q1495 925 1485 930 Q1475 925 1478 912z" fill="#4cbcb4"/>
<text x="1497" y="946" class="c">GSDMD-NT</text>
</svg>
</body></html>
